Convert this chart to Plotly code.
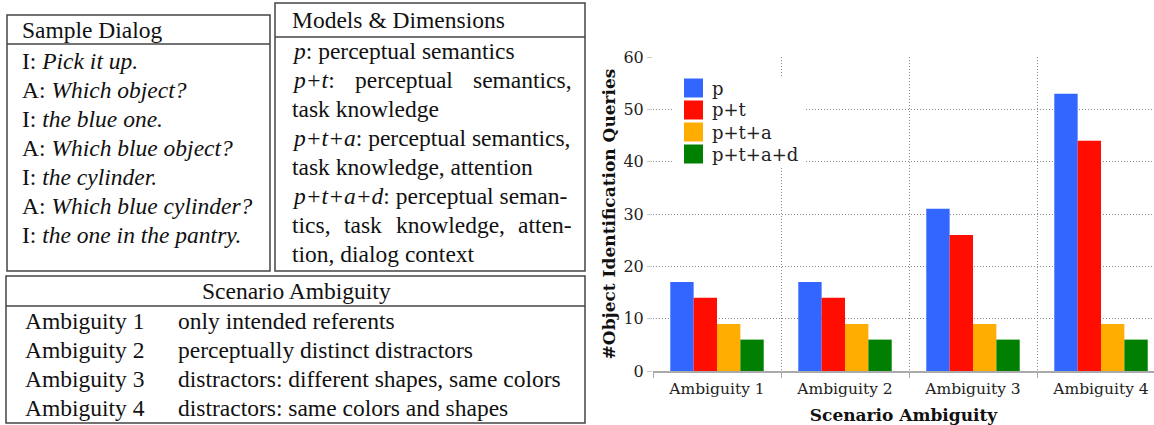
import plotly.graph_objects as go

# ---------------- data ----------------
categories = ["Ambiguity 1", "Ambiguity 2", "Ambiguity 3", "Ambiguity 4"]
series_names = ["p", "p+t", "p+t+a", "p+t+a+d"]
vals_p = [17, 17, 31, 53]
vals_pt = [14, 14, 26, 44]
vals_pta = [9, 9, 9, 9]
vals_ptad = [6, 6, 6, 6]
series_colors = ["#3366ff", "#ff0d00", "#ffad00", "#008000"]

y_ticks = [0, 10, 20, 30, 40, 50, 60]

dialog_lines = [
    ("I", "Pick it up."),
    ("A", "Which object?"),
    ("I", "the blue one."),
    ("A", "Which blue object?"),
    ("I", "the cylinder."),
    ("A", "Which blue cylinder?"),
    ("I", "the one in the pantry."),
]
scenario_rows = [
    ("Ambiguity 1", "only intended referents"),
    ("Ambiguity 2", "perceptually distinct distractors"),
    ("Ambiguity 3", "distractors: different shapes, same colors"),
    ("Ambiguity 4", "distractors: same colors and shapes"),
]

# ---------------- geometry (viewport pixels) ----------------
W, H = 1154, 425
PL, PR, PT, PB = 653, 1154, 57, 371  # plot area in pixels


def xp(px):
    return (px - PL) / (PR - PL)


def yp(py):
    return (PB - py) / (PB - PT)


fig = go.Figure()
all_vals = [vals_p, vals_pt, vals_pta, vals_ptad]
for name, vals, col in zip(series_names, all_vals, series_colors):
    fig.add_trace(go.Bar(x=categories, y=vals, name=name, showlegend=False,
                         marker=dict(color=col, line=dict(width=0))))

shapes = []
annots = []
LINE = dict(color="#444", width=1.5)


def box(x0, y0, x1, y1):
    shapes.append(dict(type="rect", xref="paper", yref="paper",
                       x0=xp(x0), x1=xp(x1), y0=yp(y0), y1=yp(y1),
                       line=LINE, fillcolor="rgba(0,0,0,0)", layer="above"))


def hline(x0, x1, y):
    shapes.append(dict(type="line", xref="paper", yref="paper",
                       x0=xp(x0), x1=xp(x1), y0=yp(y), y1=yp(y), line=LINE))


TFONT = dict(family="Liberation Serif", size=23.5, color="#111")


def text(x, y, s, anchor="left", font=TFONT):
    dx = -2 if anchor == "left" else (2 if anchor == "right" else 0)
    annots.append(dict(xref="paper", yref="paper", x=xp(x + dx), y=yp(y), text=s,
                       showarrow=False, xanchor=anchor, yanchor="middle",
                       font=font))


LS = 29  # line spacing of the tables

# Box 1: sample dialog
box(7, 15, 270, 271)
hline(7, 270, 44)
text(22, 30, "Sample Dialog")
for i, (spk, utt) in enumerate(dialog_lines):
    text(22, 61 + LS * i, f"{spk}: <i>{utt}</i>")

# Box 2: models & dimensions
box(275, 3, 585, 271)
hline(275, 585, 37)
text(292, 20, "Models &amp; Dimensions")
my = [51 + LS * i for i in range(8)]
text(292, my[0], "<i>p</i>: perceptual semantics")
text(292, my[1], "<i>p+t</i>:")
text(404, my[1], "perceptual", anchor="center")
text(572, my[1], "semantics,", anchor="right")
text(292, my[2], "task knowledge")
text(292, my[3], "<i>p+t+a</i>: perceptual semantics,")
text(292, my[4], "task knowledge, attention")
text(292, my[5], "<i>p+t+a+d</i>: perceptual seman-")
text(292, my[6], "tics,")
text(363, my[6], "task", anchor="center")
text(450, my[6], "knowledge,", anchor="center")
text(572, my[6], "atten-", anchor="right")
text(292, my[7], "tion, dialog context")

# Box 3: scenario ambiguity
box(6, 276, 585, 423)
hline(6, 585, 306)
text(296, 291, "Scenario Ambiguity", anchor="center")
for i, (a, d) in enumerate(scenario_rows):
    y = 321 + LS * i
    text(25, y, a)
    text(178, y, d)

CF = "DejaVu Serif"

# legend (drawn inside the plot, top-left)
shapes.append(dict(type="rect", xref="paper", yref="paper",
                   x0=xp(674), x1=xp(806), y0=yp(76), y1=yp(166),
                   line=dict(width=0), fillcolor="white", layer="above"))
LFONT = dict(family=CF, size=18, color="#222")
for i, (name, col) in enumerate(zip(series_names, series_colors)):
    cy = 88 + 22 * i
    shapes.append(dict(type="rect", xref="paper", yref="paper",
                       x0=xp(684), x1=xp(703), y0=yp(cy - 9.5), y1=yp(cy + 9.5),
                       line=dict(width=0), fillcolor=col, layer="above"))
    text(712, cy, name, font=LFONT)

fig.update_layout(
    width=W, height=H,
    margin=dict(l=PL, r=W - PR, t=PT, b=H - PB, pad=0),
    paper_bgcolor="white", plot_bgcolor="white",
    barmode="group", bargap=0.27, bargroupgap=0,
    font=dict(family=CF, color="#222"),
    shapes=shapes, annotations=annots,
    showlegend=False,
    xaxis=dict(type="category", range=[-0.5, 3.414], tickson="boundaries",
               showgrid=True, gridcolor="#888", griddash="1px,2px", gridwidth=1,
               ticks="outside", ticklen=5, tickcolor="#aaa",
               showline=True, linecolor="#aaa", linewidth=1.5,
               ticklabelstandoff=3,
               tickfont=dict(family=CF, size=15.5, color="#222"),
               title=dict(text="Scenario Ambiguity", standoff=13,
                          font=dict(family=CF, size=17, color="#111", weight="bold"))),
    yaxis=dict(range=[0, 60], tickvals=y_ticks, showgrid=True, gridcolor="#888",
               griddash="1px,2px", gridwidth=1, zeroline=False, showline=False,
               ticks="outside", ticklen=5, tickcolor="#ccc",
               tickfont=dict(family=CF, size=16, color="#222"),
               title=dict(text="#Object Identification Queries", standoff=3,
                          font=dict(family=CF, size=17, color="#111", weight="bold"))),
)

fig.write_html("out.html", config={"displayModeBar": False},
               post_script="document.body.style.margin='0px';")
